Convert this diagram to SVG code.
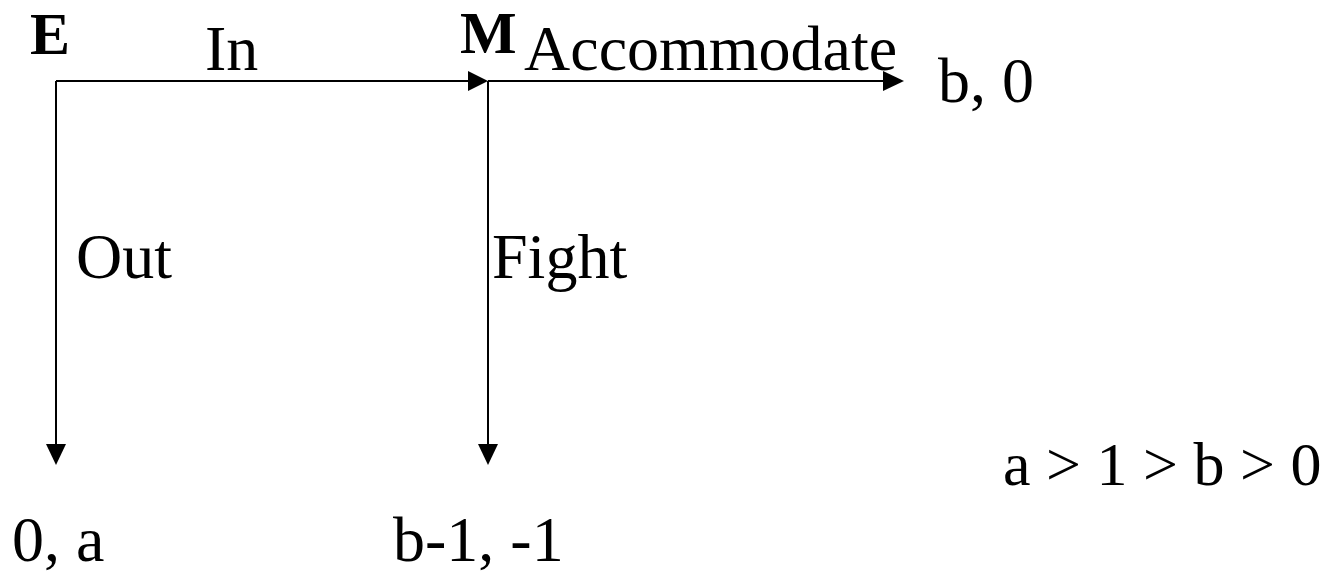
<svg xmlns="http://www.w3.org/2000/svg" width="1344" height="576" viewBox="0 0 1344 576">
<defs>
<style>
.t{font-family:"Liberation Serif","Times New Roman",serif;font-size:64px;fill:#000}
.b{font-family:"Liberation Serif","Times New Roman",serif;font-size:60px;font-weight:bold;fill:#000}
.l{stroke:#000;stroke-width:2;fill:none}
.h{fill:#000}
</style>
</defs>
<rect width="1344" height="576" fill="#fff"/>
<g id="connectors">
<line class="l" x1="56" y1="81" x2="470" y2="81"/>
<polygon class="h" points="468,71 488,81 468,91"/>
<line class="l" x1="488" y1="81" x2="885" y2="81"/>
<polygon class="h" points="883,71 904,81 883,91"/>
<line class="l" x1="56" y1="81" x2="56" y2="446"/>
<polygon class="h" points="46,444 66,444 56,465"/>
<line class="l" x1="488" y1="81" x2="488" y2="446"/>
<polygon class="h" points="478,444 498,444 488,465"/>
<text class="t" x="205" y="70">In</text>
<text class="t" x="524" y="70">Accommodate</text>
<text class="t" x="76" y="278">Out</text>
<text class="t" x="492" y="278">Fight</text>
</g>
<g id="node-E"><text class="b" x="30" y="54">E</text></g>
<g id="node-M"><text class="b" x="460" y="53">M</text></g>
<g id="payoff-accommodate"><text class="t" x="938" y="102">b, 0</text></g>
<g id="payoff-out"><text class="t" x="12" y="561">0, a</text></g>
<g id="payoff-fight"><text class="t" x="393" y="561">b-1, -1</text></g>
<g id="condition"><text class="t" x="1003" y="485" style="font-size:62px">a &gt; 1 &gt; b &gt; 0</text></g>
</svg>
